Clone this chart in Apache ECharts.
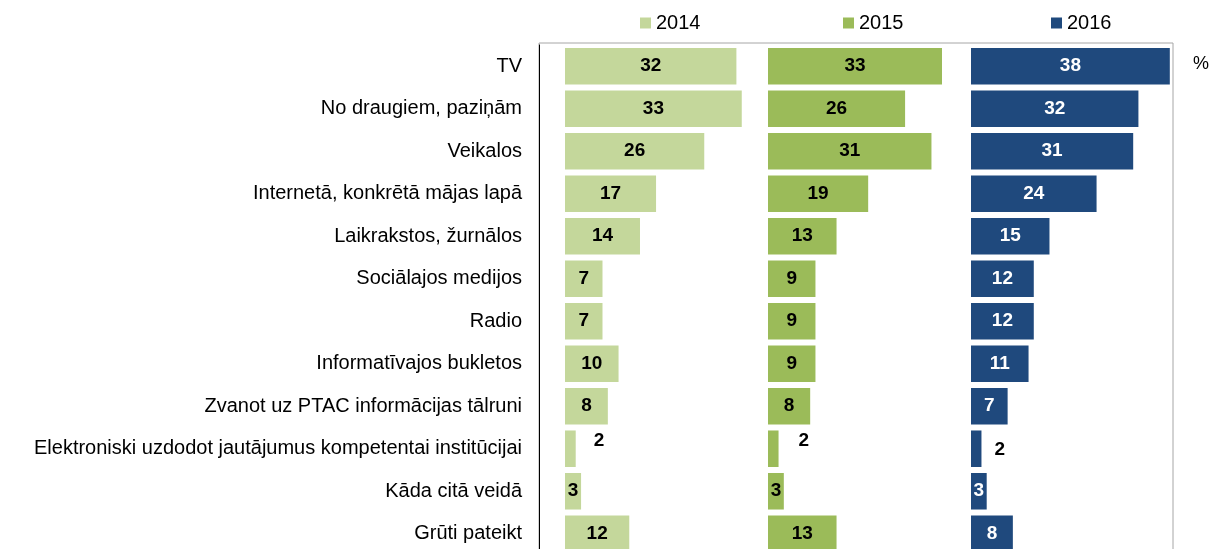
<!DOCTYPE html>
<html>
<head>
<meta charset="utf-8">
<script src="https://cdn.jsdelivr.net/npm/echarts@6/dist/echarts.min.js"></script>
<style>
  html, body { margin: 0; padding: 0; background: #fff; }
  #chart { width: 1212px; height: 549px; }
</style>
</head>
<body>
<div id="chart"></div>
<script>
// kategorijas (no augšas uz leju)
const categories = [
  'TV',
  'No draugiem, paziņām',
  'Veikalos',
  'Internetā, konkrētā mājas lapā',
  'Laikrakstos, žurnālos',
  'Sociālajos medijos',
  'Radio',
  'Informatīvajos bukletos',
  'Zvanot uz PTAC informācijas tālruni',
  'Elektroniski uzdodot jautājumus kompetentai institūcijai',
  'Kāda citā veidā',
  'Grūti pateikt'
];

const years = ['2014', '2015', '2016'];
const values2014 = [32, 33, 26, 17, 14, 7, 7, 10, 8, 2, 3, 12];
const values2015 = [33, 26, 31, 19, 13, 9, 9, 9, 8, 2, 3, 13];
const values2016 = [38, 32, 31, 24, 15, 12, 12, 11, 7, 2, 3, 8];

const chart = echarts.init(document.getElementById('chart'));

const FONT = 'Arial, "Liberation Sans", sans-serif';
const colors = ['#c4d79b', '#9bbb59', '#1f497d'];
const labelColors = ['#000', '#000', '#fff'];
const panelLeft = [565, 768, 971];
const panelMax = [37.9, 38.5, 38.8];
const legendLeft = [640, 843, 1051];
// mazo vērtību iznesto etiķešu nobīde
const smallOffsets = [[13, -8], [15, -8], [8, 1]];
const allValues = [values2014, values2015, values2016];

const grids = [
  // rāmis
  { left: 539, top: 43, width: 634, height: 600, show: true, outerBoundsMode: 'none',
    borderColor: '#a6a6a6', borderWidth: 1, backgroundColor: 'transparent' }
];
const xAxes = [{ gridIndex: 0, type: 'value', show: false }];
const yAxes = [{ gridIndex: 0, type: 'value', show: false }];
const series = [];
const legends = [];

years.forEach((year, i) => {
  grids.push({ left: panelLeft[i], top: 45, width: 203, height: 510, outerBoundsMode: 'none' });
  xAxes.push({ gridIndex: i + 1, type: 'value', min: 0, max: panelMax[i], show: false });
  yAxes.push({
    gridIndex: i + 1,
    type: 'category',
    inverse: true,
    data: categories,
    show: i === 0,
    offset: 26,
    axisLine: { show: true, onZero: false, lineStyle: { color: '#000', width: 1 } },
    axisTick: { show: false },
    axisLabel: { margin: 17, fontSize: 20, color: '#000', fontFamily: FONT }
  });
  series.push({
    name: year,
    type: 'bar',
    xAxisIndex: i + 1,
    yAxisIndex: i + 1,
    barCategoryGap: '14%',
    itemStyle: { color: colors[i] },
    label: {
      show: true,
      position: 'inside',
      color: labelColors[i],
      fontWeight: 'bold',
      fontSize: 19,
      fontFamily: FONT
    },
    data: allValues[i].map(v => v <= 2
      ? { value: v, label: { position: 'right', color: '#000', offset: smallOffsets[i] } }
      : v)
  });
  legends.push({
    data: [year],
    left: legendLeft[i],
    top: 13,
    padding: 0,
    itemWidth: 11,
    itemHeight: 11,
    itemGap: 5,
    icon: 'rect',
    textStyle: { fontSize: 20, color: '#000', fontFamily: FONT, padding: [0, 0, 0, 0] }
  });
});

const option = {
  animation: false,
  title: {
    text: '%',
    left: 1188,
    top: 50,
    textStyle: { fontSize: 18, fontWeight: 'normal', color: '#000', fontFamily: FONT }
  },
  legend: legends,
  grid: grids,
  xAxis: xAxes,
  yAxis: yAxes,
  series: series
};

chart.setOption(option);
</script>
</body>
</html>
